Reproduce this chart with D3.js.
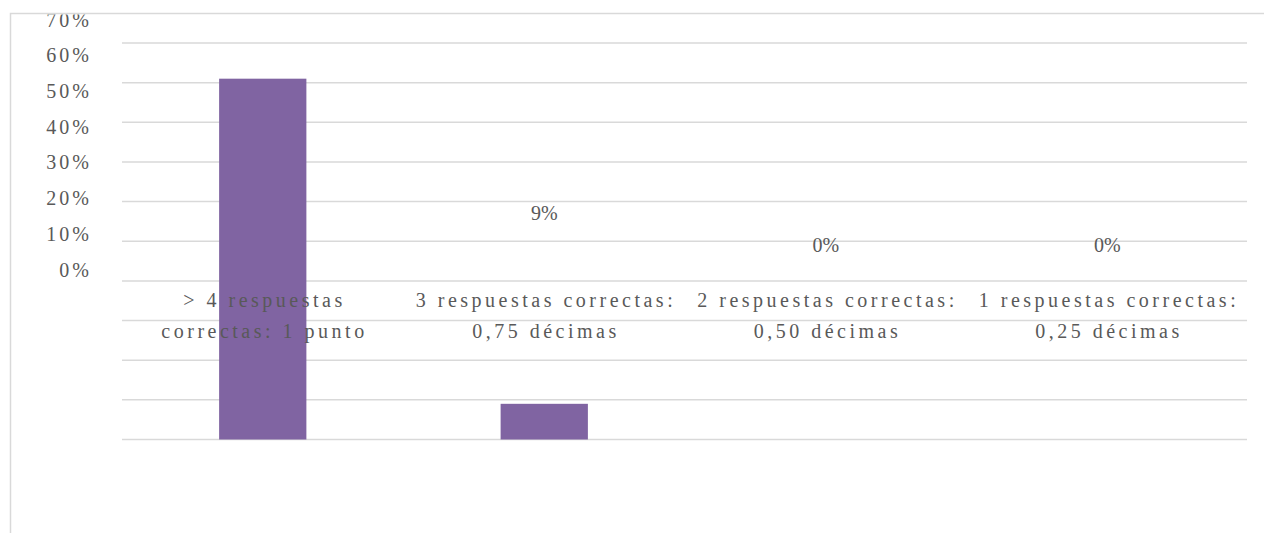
<!DOCTYPE html>
<html>
<head>
<meta charset="utf-8">
<script src="https://cdn.jsdelivr.net/npm/d3@7"></script>
<style>
  body { margin: 0; background: #fff; }
  svg { display: block; }
</style>
</head>
<body>
<div id="main"></div>
<script>
const categories = [
  ["> 4 respuestas", "correctas: 1 punto"],
  ["3 respuestas correctas:", "0,75 décimas"],
  ["2 respuestas correctas:", "0,50 décimas"],
  ["1 respuestas correctas:", "0,25 décimas"],
];
const values = [0.91, 0.09, 0, 0];
const tickLabels = [0, 0.1, 0.2, 0.3, 0.4, 0.5, 0.6, 0.7];

const width = 1264;
const height = 533;
const font = "'Liberation Serif', 'Times New Roman', serif";
const textColor = "#595959";
const gridColor = "#d9d9d9";

const svg = d3.select("#main").append("svg").attr("width", width).attr("height", height);

svg.append("clipPath").attr("id", "area")
  .append("rect").attr("x", 11).attr("y", 14.5).attr("width", width).attr("height", height);

// chart frame (only top and left edges are visible)
svg.append("path")
  .attr("d", `M10.5,${height} V13.5 H${width}`)
  .attr("fill", "none")
  .attr("stroke", gridColor)
  .attr("stroke-width", 1.5);

const g = svg.append("g").attr("clip-path", "url(#area)");

const xScale = d3.scaleBand()
  .domain(d3.range(categories.length))
  .range([122, 1248])
  .paddingInner(0.69)
  .paddingOuter(0.345);

const yScale = d3.scaleLinear().domain([0, 1]).range([439.5, 43]);

// text layer is drawn on its own, slightly squeezed scale
const textScale = d3.scaleLinear().domain([0, 0.7]).range([276, 26]);

// gridlines
g.append("g")
  .selectAll("line")
  .data(yScale.ticks(10))
  .enter()
  .append("line")
  .attr("x1", 122)
  .attr("x2", 1247)
  .attr("y1", (d) => yScale(d))
  .attr("y2", (d) => yScale(d))
  .attr("stroke", gridColor)
  .attr("stroke-width", 1.5);

// bars
g.append("g")
  .selectAll("rect")
  .data(values)
  .enter()
  .append("rect")
  .attr("x", (d, i) => xScale(i))
  .attr("width", xScale.bandwidth())
  .attr("y", (d) => yScale(d))
  .attr("height", (d) => yScale(0) - yScale(d))
  .attr("fill", "#8064A2");

// y axis labels
const yAxis = d3.axisLeft(textScale).tickValues(tickLabels).tickFormat(d3.format(".0%")).tickSize(0).tickPadding(0);
const ya = g.append("g").attr("transform", "translate(92,0)").call(yAxis);
ya.select(".domain").remove();
ya.selectAll("text")
  .attr("dy", 0)
  .style("font-family", font)
  .style("font-size", "20px")
  .style("letter-spacing", "3px")
  .attr("fill", textColor);

// data labels (the first one falls above the frame and is not shown)
const labelY = (d) => textScale(d) - 24;
g.append("g")
  .selectAll("text")
  .data(values.map((v, i) => ({ v, i })).filter((d) => labelY(d.v) > 30))
  .enter()
  .append("text")
  .attr("x", (d) => xScale(d.i) + xScale.bandwidth() / 2)
  .attr("y", (d) => labelY(d.v))
  .attr("text-anchor", "middle")
  .style("font-family", font)
  .style("font-size", "20px")
  .attr("fill", textColor)
  .text((d) => d3.format(".0%")(d.v));

// category labels
const cat = g.append("g")
  .selectAll("text")
  .data(categories)
  .enter()
  .append("text")
  .attr("text-anchor", "middle")
  .style("font-family", font)
  .style("font-size", "20px")
  .style("letter-spacing", "3.5px")
  .attr("fill", textColor);

cat.selectAll("tspan")
  .data((d, i) => d.map((t) => ({ t, i })))
  .enter()
  .append("tspan")
  .attr("x", (d) => xScale(d.i) + xScale.bandwidth() / 2 + 1.75)
  .attr("y", (d, j) => 307 + j * 30.5)
  .text((d) => d.t);
</script>
</body>
</html>
